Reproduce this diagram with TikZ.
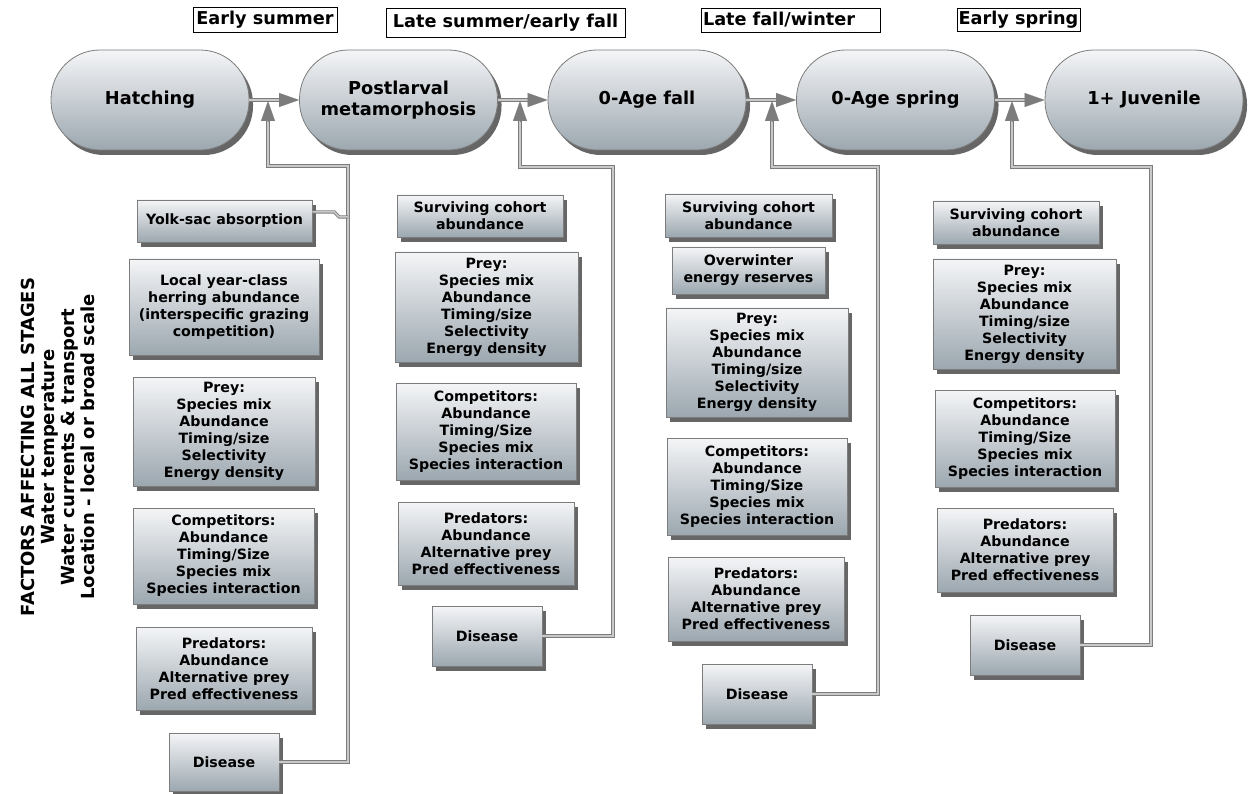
\documentclass[tikz,border=0pt]{standalone}
\usepackage{fontspec}
\setmainfont{DejaVu Sans}
\usetikzlibrary{shadows,arrows.meta,calc}

\definecolor{boxtop}{HTML}{F4F5F7}
\definecolor{boxbot}{HTML}{9CA7AF}
\definecolor{linegray}{HTML}{7C7C7C}
\definecolor{lineinner}{HTML}{C9C9C9}

\tikzset{
  stage/.style={draw=linegray, line width=0.8pt, rounded corners=49pt,
    top color=boxtop, bottom color=boxbot,
    minimum width=198pt, minimum height=100pt, align=center,
    font=\fontsize{17.8}{20.5}\selectfont\bfseries,
    drop shadow={shadow xshift=4pt, shadow yshift=-5pt, opacity=0.6, fill=black}},
  factor/.style={draw=linegray, line width=0.6pt,
    top color=boxtop, bottom color=boxbot, align=center, inner sep=0pt,
    font=\fontsize{14.2}{17}\selectfont\bfseries,
    drop shadow={shadow xshift=4pt, shadow yshift=-5pt, opacity=0.6, fill=black}},
  season/.style={draw=black, line width=0.8pt, fill=white, inner sep=1.5pt,
    font=\fontsize{17.7}{20}\selectfont\bfseries},
  link/.style={draw=linegray, line width=0.9pt, double=lineinner, double distance=1.5pt},
  arrowhead/.style={draw=linegray, fill=linegray, line width=0.1pt,
    -{Triangle[length=20pt,width=14pt]}}
}

\begin{document}
\begin{tikzpicture}[x=1pt, y=-1pt]
    \useasboundingbox (0,0) rectangle (1253,794);

    % --- 季节标签 ---
    \node[season, minimum width=144pt, minimum height=25pt] (s1) at (265,19.5) {Early summer};
    \node[season, minimum width=239pt, minimum height=29pt] (s2) at (505.5,22.5) {Late summer/early fall};
    \node[season, text width=176pt, align=left, minimum height=24pt] (s3) at (791,20) {Late fall/winter};
    \node[season, minimum width=123pt, minimum height=23pt] (s4) at (1018.5,19.5) {Early spring};

    % --- 生活阶段 ---
    \node[stage] (st1) at (150,100) {Hatching};
    \node[stage] (st2) at (398.5,100) {Postlarval\\metamorphosis};
    \node[stage] (st3) at (647,100) {0-Age fall};
    \node[stage] (st4) at (895.5,100) {0-Age spring};
    \node[stage] (st5) at (1144,100) {1+ Juvenile};

    % --- 所有阶段的共同因素 ---
    \node[rotate=90, align=center, font=\fontsize{18}{20}\selectfont\bfseries] (allstages) at (58,447)
        {FACTORS AFFECTING ALL STAGES\\Water temperature\\Water currents \& transport\\Location - local or broad scale};

    % --- 第一列 ---
    \node[factor, minimum width=175pt, minimum height=42pt] (yolk) at (224.5,221) {Yolk-sac absorption};
    \node[factor, minimum width=190pt, minimum height=96pt] (local1) at (224,307) {Local year-class\\herring abundance\\(interspecific grazing\\competition)};
    \node[factor, minimum width=182pt, minimum height=109pt] (prey1) at (224,431.5) {Prey:\\Species mix\\Abundance\\Timing/size\\Selectivity\\Energy density};
    \node[factor, minimum width=181pt, minimum height=96pt] (comp1) at (223.5,556) {Competitors:\\Abundance\\Timing/Size\\Species mix\\Species interaction};
    \node[factor, minimum width=176pt, minimum height=83pt] (pred1) at (224,668.5) {Predators:\\Abundance\\Alternative prey\\Pred effectiveness};
    \node[factor, minimum width=110pt, minimum height=58pt] (dis1) at (224,762) {Disease};

    % --- 第二列 ---
    \node[factor, minimum width=166pt, minimum height=42pt] (surv2) at (480,216) {Surviving cohort\\abundance};
    \node[factor, minimum width=183pt, minimum height=110pt] (prey2) at (486.5,307) {Prey:\\Species mix\\Abundance\\Timing/size\\Selectivity\\Energy density};
    \node[factor, minimum width=180pt, minimum height=97pt] (comp2) at (486,431.5) {Competitors:\\Abundance\\Timing/Size\\Species mix\\Species interaction};
    \node[factor, minimum width=176pt, minimum height=83pt] (pred2) at (486,543.5) {Predators:\\Abundance\\Alternative prey\\Pred effectiveness};
    \node[factor, minimum width=110pt, minimum height=60pt] (dis2) at (487,636) {Disease};

    % --- 第三列 ---
    \node[factor, minimum width=167pt, minimum height=43pt] (surv3) at (748.5,215.5) {Surviving cohort\\abundance};
    \node[factor, minimum width=153pt, minimum height=47pt] (over3) at (748.5,270.5) {Overwinter\\energy reserves};
    \node[factor, minimum width=182pt, minimum height=109pt] (prey3) at (757,362.5) {Prey:\\Species mix\\Abundance\\Timing/size\\Selectivity\\Energy density};
    \node[factor, minimum width=180pt, minimum height=97pt] (comp3) at (757,486.5) {Competitors:\\Abundance\\Timing/Size\\Species mix\\Species interaction};
    \node[factor, minimum width=176pt, minimum height=84pt] (pred3) at (756,599) {Predators:\\Abundance\\Alternative prey\\Pred effectiveness};
    \node[factor, minimum width=110pt, minimum height=60pt] (dis3) at (757,694) {Disease};

    % --- 第四列 ---
    \node[factor, minimum width=166pt, minimum height=43pt] (surv4) at (1016,222.5) {Surviving cohort\\abundance};
    \node[factor, minimum width=183pt, minimum height=110pt] (prey4) at (1024.5,314) {Prey:\\Species mix\\Abundance\\Timing/size\\Selectivity\\Energy density};
    \node[factor, minimum width=180pt, minimum height=97pt] (comp4) at (1025,438.5) {Competitors:\\Abundance\\Timing/Size\\Species mix\\Species interaction};
    \node[factor, minimum width=176pt, minimum height=84pt] (pred4) at (1025,550) {Predators:\\Abundance\\Alternative prey\\Pred effectiveness};
    \node[factor, minimum width=110pt, minimum height=60pt] (dis4) at (1025,645) {Disease};

    % --- 阶段之间的箭头 ---
    \foreach \a/\b in {st1/st2, st2/st3, st3/st4, st4/st5} {
        \draw[link] (\a.east) -- ($(\b.west)+(-18,0)$);
        \draw[arrowhead] ($(\b.west)+(-20,0)$) -- (\b.west);
    }

    % --- 反馈线：箭头尖端和拐角 ---
    \coordinate (t1) at (268,101);  \coordinate (c1) at (348,166);
    \coordinate (t2) at (520,101);  \coordinate (c2) at (613,167);
    \coordinate (t3) at (772,101);  \coordinate (c3) at (878,167);
    \coordinate (t4) at (1012,101); \coordinate (c4) at (1151,167);
    \coordinate (j1) at (348,217);

    \draw[link] (dis1.east) -| (c1) -| ($(t1)+(0,18)$);
    \draw[link] ($(yolk.east)+(0,-9)$) -- ++(22,0) -- ++(5,5) -- (j1);
    \draw[link] (dis2.east) -| (c2) -| ($(t2)+(0,18)$);
    \draw[link] (dis3.east) -| (c3) -| ($(t3)+(0,18)$);
    \draw[link] (dis4.east) -| (c4) -| ($(t4)+(0,18)$);

    \foreach \t in {t1,t2,t3,t4}
        \draw[arrowhead] ($(\t)+(0,21)$) -- (\t);

\end{tikzpicture}
\end{document}
